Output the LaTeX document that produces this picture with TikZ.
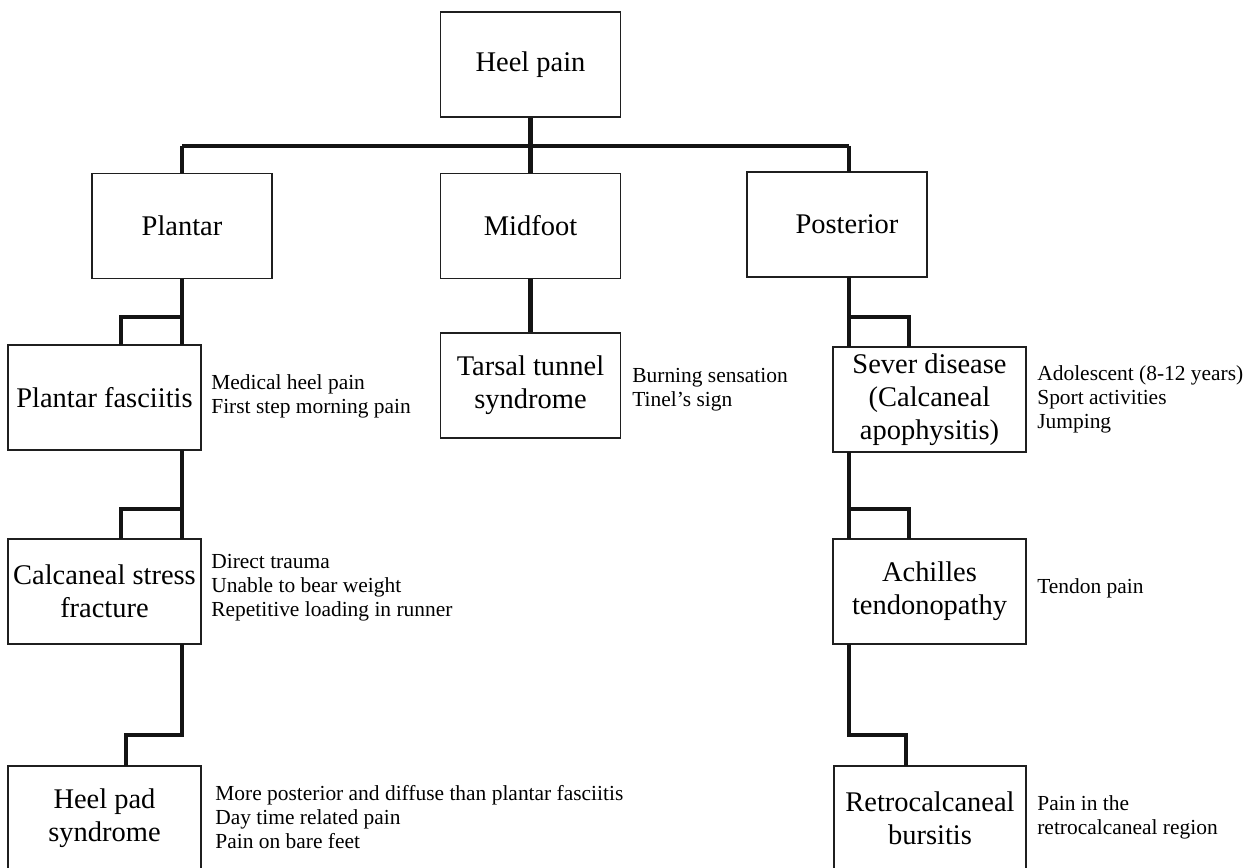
\documentclass[tikz,border=0pt]{standalone}
\usepackage{fontspec}
\setmainfont{Liberation Serif}
\usepackage{tikz}
\tikzstyle{box}=[rectangle,draw=black!88,fill=white,line width=1.1pt,
  minimum width=3.6cm,minimum height=2.1cm,inner sep=2pt,align=center,
  font=\fontsize{16.2}{18.8}\selectfont]
\tikzstyle{wbox}=[style=box,minimum width=3.85cm]
\tikzstyle{note}=[anchor=west,align=left,inner sep=0pt,
  font=\fontsize{12.2}{13.6}\selectfont]
\tikzstyle{link}=[draw=black!92,line width=2.3pt]
\tikzstyle{none}=[]

\begin{document}
\begin{tikzpicture}
            \useasboundingbox (0, 0) rectangle (25.1, -17.36);
            \clip (0, 0) rectangle (25.1, -17.36);
            % boxes
            \node [style=box] (1) at (10.61, -1.29) {Heel pain};
            \node [style=box] (2) at (3.64, -4.52) {Plantar};
            \node [style=box] (3) at (10.61, -4.52) {Midfoot};
            \node [style=box] (4) at (16.74, -4.49) {\hspace*{0.4cm}Posterior};
            \node [style=wbox] (5) at (2.09, -7.95) {Plantar fasciitis};
            \node [style=box] (6) at (10.61, -7.71) {Tarsal tunnel\\syndrome};
            \node [style=wbox] (7) at (18.59, -7.99) {Sever disease\\(Calcaneal\\apophysitis)};
            \node [style=wbox] (8) at (2.09, -11.83) {Calcaneal stress\\fracture};
            \node [style=wbox] (9) at (18.59, -11.83) {Achilles\\tendonopathy};
            \node [style=wbox] (10) at (2.09, -16.37) {Heel pad\\syndrome};
            \node [style=wbox] (11) at (18.6, -16.37) {Retrocalcaneal\\bursitis};
            % notes
            \node [style=note] (12) at (4.22, -7.93) {Medical heel pain\\First step morning pain};
            \node [style=note] (13) at (12.64, -7.8) {Burning sensation\\Tinel’s sign};
            \node [style=note] (14) at (20.74, -7.98) {Adolescent (8-12 years)\\Sport activities\\Jumping};
            \node [style=note] (15) at (4.22, -11.76) {Direct trauma\\Unable to bear weight\\Repetitive loading in runner};
            \node [style=note] (16) at (20.74, -11.76) {Tendon pain};
            \node [style=note] (17) at (4.3, -16.34) {More posterior and diffuse than plantar fasciitis\\Day time related pain\\Pain on bare feet};
            \node [style=note] (18) at (20.74, -16.34) {Pain in the\\retrocalcaneal region};
            % bend points
            \node [style=none] (20) at (10.61, -2.92) {};
            \node [style=none] (21) at (3.64, -2.92) {};
            \node [style=none] (22) at (16.98, -2.92) {};
            \node [style=none] (23) at (16.98, -3.44) {};
            \node [style=none] (24) at (3.64, -6.9) {};
            \node [style=none] (25) at (3.64, -6.34) {};
            \node [style=none] (26) at (2.42, -6.34) {};
            \node [style=none] (27) at (2.42, -6.9) {};
            \node [style=none] (28) at (3.64, -9.0) {};
            \node [style=none] (29) at (3.64, -10.78) {};
            \node [style=none] (30) at (3.64, -10.18) {};
            \node [style=none] (31) at (2.42, -10.18) {};
            \node [style=none] (32) at (2.42, -10.78) {};
            \node [style=none] (33) at (3.64, -12.88) {};
            \node [style=none] (34) at (3.64, -14.7) {};
            \node [style=none] (35) at (2.52, -14.7) {};
            \node [style=none] (36) at (2.52, -15.32) {};
            \node [style=none] (37) at (16.98, -5.54) {};
            \node [style=none] (38) at (16.98, -6.94) {};
            \node [style=none] (39) at (16.98, -6.34) {};
            \node [style=none] (40) at (18.18, -6.34) {};
            \node [style=none] (41) at (18.18, -6.94) {};
            \node [style=none] (42) at (16.98, -9.04) {};
            \node [style=none] (43) at (16.98, -10.78) {};
            \node [style=none] (44) at (16.98, -10.18) {};
            \node [style=none] (45) at (18.18, -10.18) {};
            \node [style=none] (46) at (18.18, -10.78) {};
            \node [style=none] (47) at (16.98, -12.88) {};
            \node [style=none] (48) at (16.98, -14.7) {};
            \node [style=none] (49) at (18.12, -14.7) {};
            \node [style=none] (50) at (18.12, -15.32) {};
            % top level
            \draw [style=link] (1) to (20.center);
            \draw [style=link] (21.center) to (22.center);
            \draw [style=link] (21.center) to (2);
            \draw [style=link] (20.center) to (3);
            \draw [style=link] (22.center) to (23.center);
            \draw [style=link] (3) to (6);
            % plantar side
            \draw [style=link] (2) to (24.center);
            \draw [style=link] (25.center) to (26.center) to (27.center);
            \draw [style=link] (28.center) to (29.center);
            \draw [style=link] (30.center) to (31.center) to (32.center);
            \draw [style=link] (33.center) to (34.center) to (35.center) to (36.center);
            % posterior side
            \draw [style=link] (37.center) to (38.center);
            \draw [style=link] (39.center) to (40.center) to (41.center);
            \draw [style=link] (42.center) to (43.center);
            \draw [style=link] (44.center) to (45.center) to (46.center);
            \draw [style=link] (47.center) to (48.center) to (49.center) to (50.center);
\end{tikzpicture}
\end{document}
